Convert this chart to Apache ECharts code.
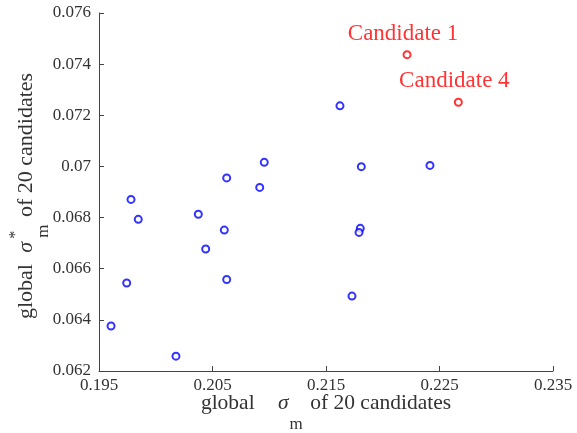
<!DOCTYPE html>
<html>
<head>
<meta charset="utf-8">
<script src="https://cdn.jsdelivr.net/npm/echarts@6/dist/echarts.min.js"></script>
<style>html,body{margin:0;padding:0;background:#fff}#c{width:577px;height:433px}</style>
</head>
<body>
<div id="c"></div>
<script>
const xTicks = [0.195, 0.205, 0.215, 0.225, 0.235];
const yTicks = [0.062, 0.064, 0.066, 0.068, 0.07, 0.072, 0.074, 0.076];
const otherX = [0.20625, 0.20956, 0.20916, 0.21623, 0.21811, 0.22416, 0.19782, 0.19846, 0.20375, 0.20604, 0.2044, 0.20625, 0.19744, 0.19606, 0.20178, 0.21802, 0.21791, 0.21729];
const otherY = [0.06955, 0.07016, 0.06918, 0.07237, 0.06999, 0.07004, 0.06871, 0.06793, 0.06813, 0.06751, 0.06677, 0.06558, 0.06544, 0.06376, 0.06258, 0.06758, 0.06742, 0.06493];
const candNames = ['Candidate 1', 'Candidate 4'];
const candX = [0.22214, 0.22666];
const candY = [0.07437, 0.07251];

const FONT = '"Liberation Serif", "Times New Roman", serif';
const TXT = '#333';
const chart = echarts.init(document.getElementById('c'));

const xRich = {
  n: { fontFamily: FONT, fontSize: 21.5, color: TXT, verticalAlign: 'top', lineHeight: 40 },
  s: { fontFamily: FONT, fontSize: 21.5, color: TXT, fontStyle: 'italic', verticalAlign: 'top', lineHeight: 40, padding: [0, 0, 0, 18] },
  sub: { fontFamily: FONT, fontSize: 17, color: TXT, verticalAlign: 'top', lineHeight: 40, padding: [24, 2, 0, 1] }
};
const yRich = {
  n: { fontFamily: FONT, fontSize: 22, color: TXT, verticalAlign: 'top', lineHeight: 40, padding: [8, 0, 0, 0] },
  e: { fontFamily: FONT, fontSize: 22, color: TXT, verticalAlign: 'top', lineHeight: 40, padding: [8, 8, 0, 0] },
  s: { fontFamily: FONT, fontSize: 22, color: TXT, fontStyle: 'italic', verticalAlign: 'top', lineHeight: 40, padding: [8, 0, 0, 6] },
  sup: { fontFamily: FONT, fontSize: 16, color: TXT, verticalAlign: 'top', lineHeight: 40, padding: [1, -7, 0, 3] },
  sub: { fontFamily: FONT, fontSize: 17, color: TXT, verticalAlign: 'top', lineHeight: 40, padding: [28, 2, 0, 0] }
};

chart.setOption({
  animation: false,
  backgroundColor: '#fff',
  grid: { left: 99, right: 24, top: 13, bottom: 62, outerBoundsMode: 'none', containLabel: false },
  xAxis: {
    type: 'value', min: xTicks[0], max: xTicks[xTicks.length - 1], interval: 0.01,
    axisLine: { show: true, lineStyle: { color: '#444', width: 1 } },
    axisTick: { show: true, inside: true, length: 5, lineStyle: { color: '#444' } },
    splitLine: { show: false },
    axisLabel: { color: TXT, fontFamily: FONT, fontSize: 17, margin: 6,
      formatter: v => { const s = xTicks.find(t => Math.abs(t - v) < 1e-9); return s !== undefined ? String(s) : ''; } },
    name: '{n|global }{s|σ}{sub|m}{n| of 20 candidates}',
    nameLocation: 'middle', nameGap: 21, nameMoveOverlap: false,
    nameTextStyle: { color: TXT, fontFamily: FONT, fontSize: 21.5, rich: xRich }
  },
  yAxis: {
    type: 'value', min: yTicks[0], max: yTicks[yTicks.length - 1], interval: 0.002,
    axisLine: { show: true, lineStyle: { color: '#444', width: 1 } },
    axisTick: { show: true, inside: true, length: 5, lineStyle: { color: '#444' } },
    splitLine: { show: false },
    axisLabel: { color: TXT, fontFamily: FONT, fontSize: 17, margin: 8,
      formatter: v => { const s = yTicks.find(t => Math.abs(t - v) < 1e-9); return s !== undefined ? String(s) : ''; } },
    name: '{n|global }{s|σ}{sup|*}{sub|m}{e| of 20 candidates}',
    nameLocation: 'middle', nameGap: 52, nameRotate: 90, nameMoveOverlap: false,
    nameTextStyle: { color: TXT, fontFamily: FONT, fontSize: 22, rich: yRich }
  },
  series: [
    {
      type: 'scatter', symbol: 'emptyCircle', symbolSize: 7,
      itemStyle: { color: '#0000ff', borderColor: '#0000ff', borderWidth: 1 },
      data: otherX.map((x, i) => [x, otherY[i]])
    },
    {
      type: 'scatter', symbol: 'emptyCircle', symbolSize: 7,
      itemStyle: { color: '#ff0000', borderColor: '#ff0000', borderWidth: 1 },
      label: { show: true, position: 'top', distance: 5, offset: [-4, 0], color: '#ff0000', fontFamily: FONT, fontSize: 23,
        formatter: p => candNames[p.dataIndex] },
      data: candX.map((x, i) => [x, candY[i]])
    }
  ]
});
</script>
</body>
</html>
